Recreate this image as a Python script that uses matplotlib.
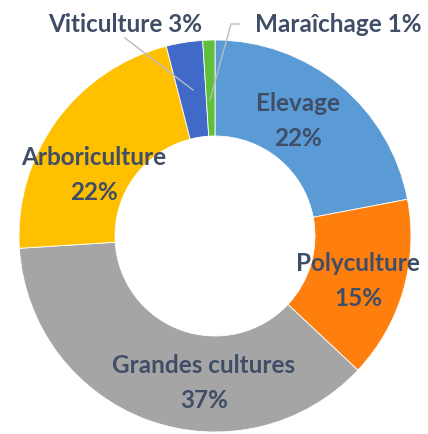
import matplotlib.pyplot as plt

# categories and shares (%), clockwise from 12 o'clock
categories = ['Elevage', 'Polyculture', 'Grandes cultures', 'Arboriculture', 'Viticulture', 'Maraîchage']
shares = [22, 15, 37, 22, 3, 1]
colors = ['#5B9BD5', '#FF7F0E', '#A5A5A5', '#FFC000', '#4169C8', '#5FBF3A']

text_color = '#3F4E66'

fig = plt.figure(figsize=(4.28, 4.34), dpi=100)
ax = fig.add_axes([0, 0, 1, 1])

# donut in pixel coordinates (y up)
cx, cy, R = 215, 198, 196
wedges, _ = ax.pie(shares, colors=colors, startangle=90, counterclock=False,
                   radius=R, center=(cx, cy), frame=True,
                   wedgeprops=dict(width=R - 100, edgecolor='white', linewidth=0.6))
ax.set_xlim(0, 428)
ax.set_ylim(0, 434)
ax.set_aspect('equal')
ax.axis('off')

font = dict(family='Lato', fontweight='bold', color=text_color, fontsize=17.5)

# labels inside the ring
inside = {
    'Elevage': (298, 313),
    'Polyculture': (358, 153),
    'Grandes cultures': (204, 51),
    'Arboriculture': (94, 259),
}
for name, pct in zip(categories, shares):
    if name in inside:
        x, y = inside[name]
        ax.text(x, y, f'{name}\n{pct}%', ha='center', va='center', linespacing=1.65, **font)

# small slices with leader lines
i = categories.index('Viticulture')
ax.text(125, 409, f'{categories[i]} {shares[i]}%', ha='center', va='center', **font)
ax.plot([125, 193], [396, 344], color='#B4BCC8', lw=1)

j = categories.index('Maraîchage')
ax.text(338, 409, f'{categories[j]} {shares[j]}%', ha='center', va='center', **font)
ax.plot([239, 231, 210], [410, 410, 334], color='#B4BCC8', lw=1)

fig.savefig('out.png', dpi=100)
